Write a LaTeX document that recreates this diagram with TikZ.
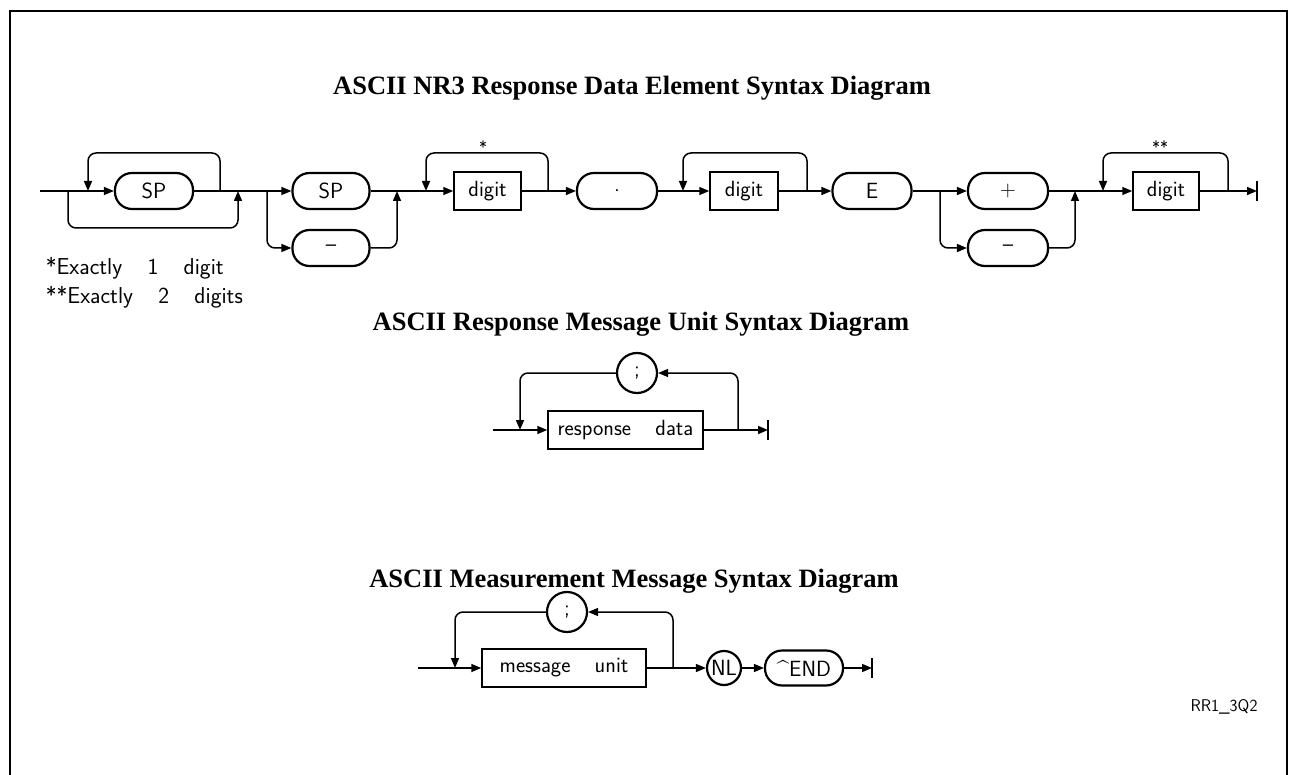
\documentclass[tikz,border=0pt]{standalone}
\usepackage{fontspec}
\setmainfont{Liberation Serif}
\usetikzlibrary{arrows.meta}
\begin{document}
\begin{tikzpicture}[x=1pt,y=-1pt,
  line width=1.5pt,
  arr/.style={-{Triangle[length=10pt,width=8pt]}},
  rnd/.style={rounded corners=8pt},
  lbl/.style={font=\sffamily\fontsize{22}{22}\selectfont},
  stad/.style={lbl,draw,line width=2.2pt,rectangle,rounded corners=17pt,minimum height=36pt,inner sep=0pt},
  box/.style={lbl,draw,line width=1.5pt,rectangle,minimum height=38pt,inner sep=0pt},
  circ/.style={lbl,draw,line width=2.2pt,circle,inner sep=0pt},
  ttl/.style={font=\bfseries\fontsize{26.5}{26.5}\selectfont},
  note/.style={font=\sffamily\fontsize{23}{23}\selectfont,anchor=west,inner sep=0pt},
  endbar/.style={line width=1.5pt}]
\useasboundingbox (0,0) rectangle (1292,775);
% frame
\draw[line width=2.6pt] (10,775) -- (10,11) -- (1287,11) -- (1287,775);

% ---------- titles ----------
\node[ttl] (t1) at (632,88) {ASCII NR3 Response Data Element Syntax Diagram};
\node[ttl] (t2) at (641,324) {ASCII Response Message Unit Syntax Diagram};
\node[ttl] (t3) at (634,581) {ASCII Measurement Message Syntax Diagram};

% ---------- diagram 1 ----------
\node[stad,minimum width=78pt] (sp1) at (154,191) {SP};
\node[stad,minimum width=77pt] (sp2) at (331,191) {SP};
\node[stad,minimum width=77pt] (mi1) at (331,248) {--};
\node[box,minimum width=67pt] (dg1) at (487.5,191) {digit};
\node[stad,minimum width=80pt] (dot) at (617,191) {.};
\node[box,minimum width=68pt] (dg2) at (744,191) {digit};
\node[stad,minimum width=79pt] (ee) at (872,191) {E};
\node[stad,minimum width=80pt] (pl) at (1008,191) {+};
\node[stad,minimum width=80pt] (mi2) at (1008,248) {--};
\node[box,minimum width=66pt] (dg3) at (1166,191) {digit};

\coordinate (s1) at (40,191);
\coordinate (a1) at (68,191);
\coordinate (a2) at (88,191);
\coordinate (a3) at (220,191);
\coordinate (a4) at (238,191);
\coordinate (a5) at (267,191);
\coordinate (a6) at (397,191);
\coordinate (b1) at (426,191);
\coordinate (b2) at (548,191);
\coordinate (c1) at (683,191);
\coordinate (c2) at (807,191);
\coordinate (d1) at (940,191);
\coordinate (d2) at (1075,191);
\coordinate (e1) at (1103,191);
\coordinate (e2) at (1228,191);
\coordinate (f1) at (1257,191);

\draw[arr] (s1) -- (sp1);
\draw[arr,rnd] (a3) -- ++(0,-38) -| (a2);
\draw[arr,rnd] (a1) -- ++(0,37) -| (a4);
\draw[arr] (sp1) -- (sp2);
\draw[arr,rnd] (a5) |- (mi1);
\draw[arr,rnd] (mi1) -| (a6);
\draw[arr] (sp2) -- (dg1);
\draw[arr,rnd] (b2) -- ++(0,-38) -| (b1);
\draw[arr] (dg1) -- (dot);
\draw[arr] (dot) -- (dg2);
\draw[arr,rnd] (c2) -- ++(0,-38) -| (c1);
\draw[arr] (dg2) -- (ee);
\draw[arr] (ee) -- (pl);
\draw[arr,rnd] (d1) |- (mi2);
\draw[arr,rnd] (mi2) -| (d2);
\draw[arr] (pl) -- (dg3);
\draw[arr,rnd] (e2) -- ++(0,-38) -| (e1);
\draw[arr] (dg3) -- (f1);
\draw[endbar] (f1) ++(0,-10) -- ++(0,20);

\node[font=\sffamily\fontsize{17}{17}\selectfont] (st1) at (483,147) {*};
\node[font=\sffamily\fontsize{17}{17}\selectfont] (st2) at (1160,147) {**};

\node[note] (n1) at (45,268) {*Exactly\hspace{1.1em}1\hspace{1.1em}digit};
\node[note] (n2) at (45,297) {**Exactly\hspace{1.1em}2\hspace{1.1em}digits};

% ---------- diagram 2 ----------
\node[circ,minimum size=40pt] (sc1) at (637,373) {;};
\node[box,minimum width=155pt] (rd) at (625.5,430) {response\hspace{1.1em}data};
\coordinate (g0) at (493,430);
\coordinate (g1) at (520,430);
\coordinate (g2) at (738,430);
\coordinate (g3) at (768,430);
\draw[arr] (g0) -- (rd);
\draw[arr,rnd] (sc1) -| (g1);
\draw[arr,rnd] (g2) |- (sc1);
\draw[arr] (rd) -- (g3);
\draw[endbar] (g3) ++(0,-10) -- ++(0,20);

% ---------- diagram 3 ----------
\node[circ,minimum size=40pt] (sc2) at (567,612) {;};
\node[box,minimum width=164pt] (mu) at (564,668) {message\hspace{1.1em}unit};
\node[circ,minimum size=34pt] (nl) at (724,668) {NL};
\node[stad,minimum width=78pt,minimum height=35pt] (en) at (804,668) {\textasciicircum END};
\coordinate (h0) at (418,668);
\coordinate (h1) at (455,668);
\coordinate (h2) at (673,668);
\coordinate (h3) at (872,668);
\draw[arr] (h0) -- (mu);
\draw[arr,rnd] (sc2) -| (h1);
\draw[arr,rnd] (h2) |- (sc2);
\draw[arr] (mu) -- (nl);
\draw[arr] (nl) -- (en);
\draw[arr] (en) -- (h3);
\draw[endbar] (h3) ++(0,-10) -- ++(0,20);

\node[font=\sffamily\fontsize{17}{17}\selectfont] (rr) at (1224,707) {RR1\_3Q2};
\end{tikzpicture}
\end{document}
